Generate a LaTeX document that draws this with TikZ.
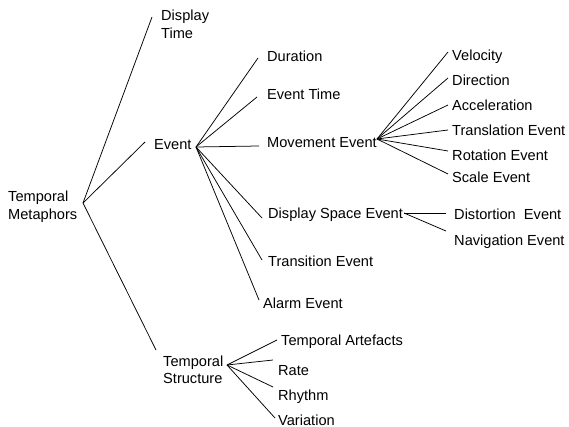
\documentclass[tikz,border=0pt]{standalone}
\usepackage{fontspec}
\setmainfont{Liberation Sans}
\begin{document}
\begin{tikzpicture}[x=1pt,y=-1pt,
  lbl/.style={anchor=base west,inner sep=0pt,font=\fontsize{14.6}{17.5}\selectfont},
  branch/.style={line width=0.75pt,black}]
\useasboundingbox (0,0) rectangle (569,427);
\newcommand{\twoline}[2]{\begin{tabular}[t]{@{}l@{}}#1\\#2\end{tabular}}

% labels
\node[lbl] (tm)   at (8,202)   {\twoline{Temporal}{Metaphors}};
\node[lbl] (dt)   at (161,21)  {\twoline{Display}{Time}};
\node[lbl] (ev)   at (154,150) {Event};
\node[lbl] (ts)   at (163,366) {\twoline{Temporal}{Structure}};

\node[lbl] (dur)  at (267,62)  {Duration};
\node[lbl] (evt)  at (267,100) {Event Time};
\node[lbl] (mov)  at (267,148) {Movement Event};
\node[lbl] (dse)  at (268,219) {Display Space Event};
\node[lbl] (tra)  at (268,266) {Transition Event};
\node[lbl] (ala)  at (263,308) {Alarm Event};

\node[lbl] (vel)  at (452,61)  {Velocity};
\node[lbl] (dir)  at (452,86)  {Direction};
\node[lbl] (acc)  at (452,111) {Acceleration};
\node[lbl] (trn)  at (452,136) {Translation Event};
\node[lbl] (rot)  at (452,161) {Rotation Event};
\node[lbl] (sca)  at (452,183) {Scale Event};

\node[lbl] (dis)  at (454,220) {Distortion\ \ Event};
\node[lbl] (nav)  at (454,245) {Navigation Event};

\node[lbl] (tar)  at (281,345) {Temporal Artefacts};
\node[lbl] (rat)  at (278,375) {Rate};
\node[lbl] (rhy)  at (278,400) {Rhythm};
\node[lbl] (var)  at (278,425) {Variation};

% branching points
\coordinate (jtm)  at (83,203);
\coordinate (jev)  at (196,147);
\coordinate (jmov) at (377,139);
\coordinate (jdse) at (404,213);
\coordinate (jts)  at (227,365);

% free ends of the branches
\coordinate (edt)  at (152,17);
\coordinate (eev)  at (145,142);
\coordinate (ets)  at (156,350);
\coordinate (edur) at (258,58);
\coordinate (eevt) at (257,97);
\coordinate (emov) at (259,146);
\coordinate (edse) at (262,218);
\coordinate (etra) at (262,260);
\coordinate (eala) at (259,300);
\coordinate (evel) at (448,52);
\coordinate (edir) at (448,78);
\coordinate (eacc) at (448,105);
\coordinate (etrn) at (448,130);
\coordinate (erot) at (448,151);
\coordinate (esca) at (448,174);
\coordinate (edis) at (446,213);
\coordinate (enav) at (446,231);
\coordinate (etar) at (277,340);
\coordinate (erat) at (273,360);
\coordinate (erhy) at (273,387);
\coordinate (evar) at (275,418);

% branches
\foreach \e in {edt,eev,ets} \draw[branch] (jtm) -- (\e);
\foreach \e in {edur,eevt,emov,edse,etra,eala} \draw[branch] (jev) -- (\e);
\foreach \e in {evel,edir,eacc,etrn,erot,esca} \draw[branch] (jmov) -- (\e);
\foreach \e in {edis,enav} \draw[branch] (jdse) -- (\e);
\foreach \e in {etar,erat,erhy,evar} \draw[branch] (jts) -- (\e);
\end{tikzpicture}
\end{document}
